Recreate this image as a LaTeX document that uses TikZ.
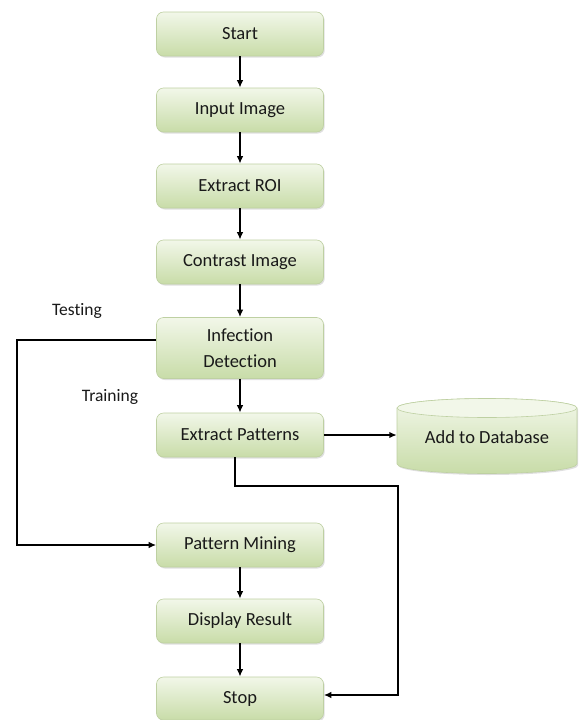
\documentclass[tikz,border=0pt]{standalone}
\usepackage{fontspec}
\setmainfont[Ligatures={NoCommon,NoDiscretionary}]{Carlito}
\usetikzlibrary{arrows.meta,shadows}
\definecolor{boxtop}{RGB}{242,247,233}
\definecolor{boxbot}{RGB}{200,220,168}
\definecolor{boxedge}{RGB}{190,208,162}
\definecolor{txt}{RGB}{25,25,25}
\begin{document}
\begin{tikzpicture}[x=1pt,y=-1pt,
  procbox/.style={rounded corners=7pt, minimum width=167pt, minimum height=44pt,
    top color=boxtop, bottom color=boxbot, draw=boxedge, line width=0.6pt,
    drop shadow={shadow xshift=1.2pt, shadow yshift=-1.5pt, opacity=0.25},
    font=\fontsize{18.5}{26}\selectfont, text=txt, align=center, inner sep=2pt},
  lbl/.style={font=\fontsize{17.5}{20}\selectfont, text=txt},
  conn/.style={line width=1.8pt, black},
  arr/.style={conn, -{Latex[length=7.5pt,width=6.5pt]}}]
\useasboundingbox (0,0) rectangle (579,720);

\node[procbox] (start) at (240,34) {Start};
\node[procbox] (inp) at (240,110) {Input Image};
\node[procbox] (roi) at (240,186) {Extract ROI};
\node[procbox] (con) at (240,262) {Contrast Image};
\node[procbox, minimum height=61pt] (inf) at (240,348) {Infection\\Detection};
\node[procbox] (pat) at (240,435) {Extract Patterns};
\node[procbox] (mine) at (240,545) {Pattern Mining};
\node[procbox] (disp) at (240,621) {Display Result};
\node[procbox, minimum height=43pt] (stop) at (240,698.5) {Stop};

% database cylinder
\path[top color=boxtop, bottom color=boxbot, draw=boxedge, line width=0.6pt,
  drop shadow={shadow xshift=1.2pt, shadow yshift=-1.5pt, opacity=0.25}]
  (397,408) -- (397,464) arc[start angle=180, end angle=360, x radius=90pt, y radius=9.5pt]
  -- (577,408) arc[start angle=0, end angle=180, x radius=90pt, y radius=9.5pt] -- cycle;
\draw[fill=boxtop, draw=boxedge, line width=0.6pt] (487,408) ellipse[x radius=90pt, y radius=9.5pt];
\node[minimum width=180pt, minimum height=56pt, font=\fontsize{18.5}{26}\selectfont, text=txt] (db) at (487,437) {Add to Database};

% labels
\node[lbl] (testing) at (77,311) {Testing};
\node[lbl] (training) at (110,397) {Training};

% connectors
\draw[arr] (start) -- (inp);
\draw[arr] (inp) -- (roi);
\draw[arr] (roi) -- (con);
\draw[arr] (con) -- (inf);
\draw[arr] (inf) -- (pat);
\draw[arr] (mine) -- (disp);
\draw[arr] (disp) -- (stop);
\draw[arr] (pat.east) -- (db.west |- pat.east);

\coordinate (l1) at (17,340);
\draw[arr] (inf.west |- l1) -- (l1) |- (mine.west);

\coordinate (r1) at (398,486);
\coordinate (p1) at (235,486);
\coordinate (s1) at (398,695);
\draw[arr] (pat.south -| p1) -- (p1) -- (r1) -- (s1) -- (stop.east |- s1);
\end{tikzpicture}
\end{document}
